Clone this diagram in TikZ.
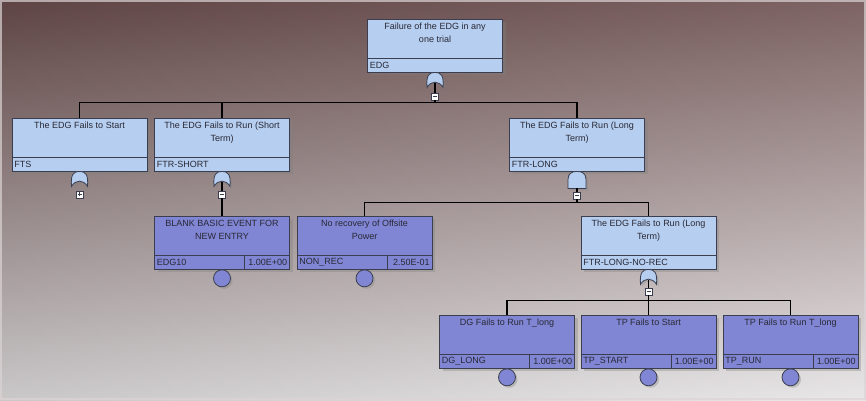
\documentclass[tikz,border=0pt]{standalone}
\usepackage{fontspec}
\setmainfont{Liberation Sans}
\usetikzlibrary{shadows}

\definecolor{evlight}{RGB}{182,206,240}
\definecolor{evdark}{RGB}{128,134,212}
\definecolor{evedge}{RGB}{58,62,78}
\definecolor{evtext}{RGB}{40,40,52}
\definecolor{bgtop}{RGB}{108,78,78}
\definecolor{bgmid}{RGB}{165,145,146}
\definecolor{bgbot}{RGB}{230,228,229}
\definecolor{bgframe}{RGB}{220,212,212}

\tikzset{
  evbox/.style={draw=evedge, line width=0.8pt, minimum width=135pt, minimum height=53pt,
    inner sep=0pt, drop shadow={shadow xshift=3pt, shadow yshift=-3pt, opacity=0.35}},
  gatebox/.style={evbox, fill=evlight},
  basicbox/.style={evbox, fill=evdark},
  evtitle/.style={anchor=north, align=center, inner sep=0pt, font=\fontsize{9}{13}\selectfont, text=evtext},
  evid/.style={inner sep=2.5pt, font=\fontsize{9}{11}\selectfont, text=evtext},
  sepline/.style={draw=evedge, line width=0.9pt},
  link/.style={draw=black, line width=1.5pt},
  gateshape/.style={draw=evedge, fill=evlight, line width=0.8pt,
    drop shadow={shadow xshift=2pt, shadow yshift=-2pt, opacity=0.3}},
  basic/.style={circle, draw=evedge, fill=evdark, line width=0.8pt, minimum size=17pt, inner sep=0pt,
    drop shadow={shadow xshift=2pt, shadow yshift=-2pt, opacity=0.35}},
  expander/.style={rectangle, draw=evedge, fill=white, minimum size=7pt, inner sep=0pt, line width=0.5pt},
  expminus/.style={expander, path picture={
    \draw[line width=0.9pt] ([xshift=-2pt]path picture bounding box.center) -- ([xshift=2pt]path picture bounding box.center);}},
  expplus/.style={expander, path picture={
    \draw[line width=0.9pt] ([xshift=-2pt]path picture bounding box.center) -- ([xshift=2pt]path picture bounding box.center);
    \draw[line width=0.9pt] ([yshift=-2pt]path picture bounding box.center) -- ([yshift=2pt]path picture bounding box.center);}},
  orgate/.pic={
    \draw[gateshape] (-8,15) .. controls (-9,3) and (-6,0) .. (0,0) .. controls (6,0) and (9,3) .. (8,15)
      .. controls (4,8) and (-4,8) .. (-8,15) -- cycle;
    \coordinate (-out) at (0,10.5);},
  andgate/.pic={
    \draw[gateshape] (-9,17) -- (-9,8) .. controls (-9,2) and (-5,0) .. (0,0) .. controls (5,0) and (9,2) .. (9,8)
      -- (9,17) -- cycle;
    \coordinate (-out) at (0,17);},
}

% event box: name, centre, style, title, id
\newcommand{\eventbox}[5]{%
  \node[#3] (#1) at (#2) {};
  \node[evtitle] (#1-t) at ([yshift=-4.5pt]#1.north) {#4};
  \draw[sepline] ([yshift=14pt]#1.south west) -- ([yshift=14pt]#1.south east);
  \node[evid, anchor=west] (#1-id) at ([yshift=7pt]#1.south west) {#5};
}
% probability cell: name, value
\newcommand{\probcell}[2]{%
  \draw[sepline] ([xshift=-45pt]#1.south east) -- ([xshift=-45pt,yshift=14pt]#1.south east);
  \node[evid, anchor=east] (#1-p) at ([yshift=7pt]#1.south east) {#2};
}

\begin{document}
\begin{tikzpicture}[x=1pt, y=-1pt]
\useasboundingbox (0,0) rectangle (866,400);
% background
\shade[top color=bgtop, middle color=bgmid, bottom color=bgbot] (0,0) rectangle (866,400);
\shade[left color=black, right color=white, opacity=0.12] (0,0) rectangle (866,400);
\draw[bgframe, line width=2pt, opacity=0.7] (1,1) rectangle (865,399);

% events
\eventbox{edg}{435,45.5}{gatebox}{Failure of the EDG in any\\one trial}{EDG}
\eventbox{fts}{79.5,144.5}{gatebox}{The EDG Fails to Start}{FTS}
\eventbox{ftrshort}{222,144.5}{gatebox}{The EDG Fails to Run (Short\\Term)}{FTR-SHORT}
\eventbox{ftrlong}{577,144.5}{gatebox}{The EDG Fails to Run (Long\\Term)}{FTR-LONG}
\eventbox{edgten}{222,242.5}{basicbox}{BLANK BASIC EVENT FOR\\NEW ENTRY}{EDG10}
\probcell{edgten}{1.00E+00}
\eventbox{nonrec}{364.5,242.5}{basicbox}{No recovery of Offsite\\Power}{NON\_REC}
\probcell{nonrec}{2.50E-01}
\eventbox{ftrnorec}{648.5,242.5}{gatebox}{The EDG Fails to Run (Long\\Term)}{FTR-LONG-NO-REC}
\eventbox{dglong}{507,341.5}{basicbox}{DG Fails to Run T\_long}{DG\_LONG}
\probcell{dglong}{1.00E+00}
\eventbox{tpstart}{648.5,341.5}{basicbox}{TP Fails to Start}{TP\_START}
\probcell{tpstart}{1.00E+00}
\eventbox{tprun}{790.5,341.5}{basicbox}{TP Fails to Run T\_long}{TP\_RUN}
\probcell{tprun}{1.00E+00}

% gates
\pic (edg-g) at (edg.south) {orgate};
\pic (fts-g) at (fts.south) {orgate};
\pic (ftrshort-g) at (ftrshort.south) {orgate};
\pic (ftrlong-g) at (ftrlong.south) {andgate};
\pic (ftrnorec-g) at (ftrnorec.south) {orgate};

% expand / collapse marks
\node[expminus] (edg-x) at ([yshift=-24pt]edg.south) {};
\node[expplus] (fts-x) at ([yshift=-23pt]fts.south) {};
\node[expminus] (ftrshort-x) at ([yshift=-23pt]ftrshort.south) {};
\node[expminus] (ftrlong-x) at ([yshift=-24pt]ftrlong.south) {};
\node[expminus] (ftrnorec-x) at ([yshift=-22pt]ftrnorec.south) {};

% buses
\coordinate (edg-bus) at ([yshift=-30pt]edg.south);
\coordinate (ftrlong-bus) at ([yshift=-31pt]ftrlong.south);
\coordinate (ftrnorec-bus) at ([yshift=-31pt]ftrnorec.south);

% links
\foreach \g in {edg, ftrshort, ftrlong, ftrnorec}
  \draw[link] (\g-g-out) -- (\g-x.north);
\draw[link] (edg-x.south) -- (edg-bus);
\foreach \c in {fts, ftrshort, ftrlong}
  \draw[link] (edg-bus) -| (\c.north);
\draw[link] (ftrshort-x.south) -- (edgten.north);
\draw[link] (ftrlong-x.south) -- (ftrlong-bus);
\foreach \c in {nonrec, ftrnorec}
  \draw[link] (ftrlong-bus) -| (\c.north);
\draw[link] (ftrnorec-x.south) -- (ftrnorec-bus);
\foreach \c in {dglong, tpstart, tprun}
  \draw[link] (ftrnorec-bus) -| (\c.north);

% basic event circles
\foreach \b in {edgten, nonrec, dglong, tpstart, tprun}
  \node[basic, anchor=north] (\b-c) at (\b.south) {};
\end{tikzpicture}
\end{document}
